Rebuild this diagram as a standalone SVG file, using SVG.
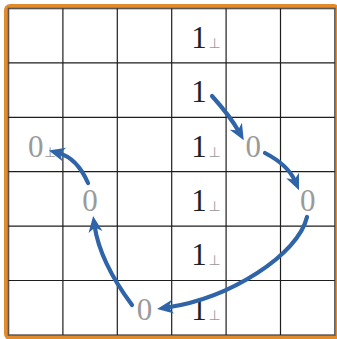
<svg xmlns="http://www.w3.org/2000/svg" width="337" height="339" viewBox="0 0 337 339">
<style>
.grid{stroke:#1e1e1e;stroke-width:1.2;fill:none}
.one{font-family:"Liberation Serif","Times New Roman",serif;font-size:31px;fill:#222;text-anchor:middle}
.zero{font-family:"Liberation Serif","Times New Roman",serif;font-size:31px;fill:#9a9a9a;text-anchor:middle}
.perp{font-family:"DejaVu Sans",sans-serif;font-size:14px;fill:#999}
.arr{fill:none;stroke:#2f65a8;stroke-width:4.2;stroke-linecap:round;marker-end:url(#ah)}
</style>
<defs>
<marker id="ah" markerUnits="userSpaceOnUse" viewBox="-7 -8 18 16" refX="0" refY="0" markerWidth="18" markerHeight="16" orient="auto" overflow="visible">
<path d="M10,0 L-6,-7 L-1.5,0 L-6,7 Z" fill="#2f65a8"/>
</marker>
</defs>
<rect x="0" y="0" width="337" height="339" fill="#fff"/>
<rect x="6" y="6" width="331.5" height="332" rx="4" fill="#fff" stroke="#e38b2c" stroke-width="4"/>
<g id="grid">
<rect x="8.5" y="8.5" width="326.4" height="326.6" fill="none" stroke="#555" stroke-width="1.6"/>
<path class="grid" d="M62.9,8.5V335.1M117.3,8.5V335.1M171.7,8.5V335.1M226.1,8.5V335.1M280.5,8.5V335.1M8.5,62.9H334.9M8.5,117.3H334.9M8.5,171.7H334.9M8.5,226.1H334.9M8.5,280.5H334.9"/>
</g>
<g id="n-r0c3"><text class="one" x="199" y="47.7">1</text><text class="perp" x="208.5" y="47.7">⊥</text></g>
<g id="n-r1c3"><text class="one" x="199" y="102.1">1</text></g>
<g id="n-r2c3"><text class="one" x="199" y="156.5">1</text><text class="perp" x="208.5" y="156.5">⊥</text></g>
<g id="n-r3c3"><text class="one" x="199" y="210.9">1</text><text class="perp" x="208.5" y="210.9">⊥</text></g>
<g id="n-r4c3"><text class="one" x="199" y="265.3">1</text><text class="perp" x="208.5" y="265.3">⊥</text></g>
<g id="n-r5c3"><text class="one" x="199" y="319.7">1</text><text class="perp" x="208.5" y="319.7">⊥</text></g>
<g id="n-r2c4"><text class="zero" x="253.3" y="156.5">0</text></g>
<g id="n-r3c5"><text class="zero" x="307.7" y="210.9">0</text></g>
<g id="n-r5c2"><text class="zero" x="144.5" y="319.7">0</text></g>
<g id="n-r3c1"><text class="zero" x="90.1" y="210.9">0</text></g>
<g id="n-r2c0"><text class="zero" x="35.7" y="156.5">0</text><text class="perp" x="44" y="156.5">⊥</text></g>
<g id="connectors">
<path class="arr" d="M212,96 Q230,116 238.8,131.5"/>
<path class="arr" d="M265,153 Q288,165 295,181"/>
<path class="arr" d="M307,217 C298,255 230,298 167,307.5"/>
<path class="arr" d="M132,305 Q100,262 94.6,226"/>
<path class="arr" d="M88,183 Q77,158 58.5,153"/>
</g>
</svg>
